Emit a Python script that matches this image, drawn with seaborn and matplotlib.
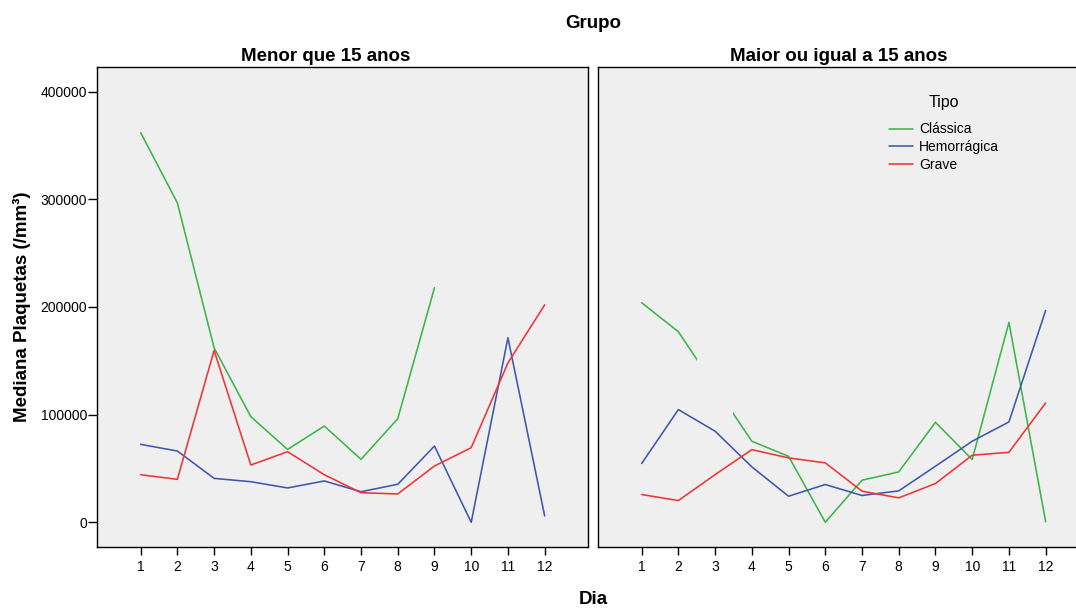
import numpy as np
import pandas as pd
import matplotlib
matplotlib.use("Agg")
import matplotlib.pyplot as plt
import seaborn as sns
from matplotlib.path import Path
from matplotlib.lines import Line2D

nan = np.nan

# ---- data -----------------------------------------------------------
dias = list(range(1, 13))
grupos = ["Menor que 15 anos", "Maior ou igual a 15 anos"]
tipos = ["Clássica", "Hemorrágica", "Grave"]

menor_classica = [362000, 296700, 162100, 98100, 67700, 89400, 58500, 96200, 217800, nan, nan, nan]
menor_hemorragica = [72400, 66200, 40800, 37700, 31900, 38400, 28400, 35300, 70800, 0, 171400, 5900]
menor_grave = [44200, 39900, 159600, 53200, 65600, 44200, 27500, 26300, 52300, 69300, 148000, 202000]

maior_classica = [204000, 177000, 126000, 75300, 61300, 0, 39100, 46800, 92900, 58300, 185700, 500]
maior_hemorragica = [54600, 104700, 84600, 51500, 24200, 35100, 24900, 29200, 52100, 75300, 93200, 196800]
maior_grave = [25800, 20200, 44300, 67500, 59800, 55200, 28900, 22700, 36000, 62300, 65000, 110900]

# the Clássica line of the older group is not drawn around this day
gap_dia = 3

yticks = [0, 100000, 200000, 300000, 400000]
ytick_labels = ["0", "100000", "200000", "300000", "400000"]

cores = {"Clássica": "#3DB54A", "Hemorrágica": "#3E58AC", "Grave": "#EF3338"}

series = {
    grupos[0]: [menor_classica, menor_hemorragica, menor_grave],
    grupos[1]: [maior_classica, maior_hemorragica, maior_grave],
}
rows = []
for g, vals in series.items():
    for t, v in zip(tipos, vals):
        for d, y in zip(dias, v):
            rows.append({"Grupo": g, "Tipo": t, "Dia": d, "Valor": y})
df = pd.DataFrame(rows).dropna()

# ---- style ----------------------------------------------------------
sns.set_theme(style="ticks")
plt.rcParams["font.family"] = ["Liberation Sans", "DejaVu Sans"]
plt.rcParams["axes.edgecolor"] = "black"
plt.rcParams["axes.linewidth"] = 1.0
plt.rcParams["xtick.color"] = "black"
plt.rcParams["ytick.color"] = "black"
plt.rcParams["text.color"] = "black"
plt.rcParams["axes.labelcolor"] = "black"
plt.rcParams["legend.labelcolor"] = "black"

W, H = 1076, 610
fig = plt.figure(figsize=(W / 100, H / 100), dpi=100)
fig.patch.set_facecolor("white")

ax_w = 490.7 / W
ax_h = (546.7 - 67.3) / H
ax_b = 1 - 546.7 / H
ax1 = fig.add_axes([97.3 / W, ax_b, ax_w, ax_h])
ax2 = fig.add_axes([598.3 / W, ax_b, ax_w, ax_h], sharey=ax1)

for ax, g in zip([ax1, ax2], grupos):
    ax.set_facecolor("#EFEFEF")
    sns.lineplot(data=df[df["Grupo"] == g], x="Dia", y="Valor", hue="Tipo",
                 hue_order=tipos, palette=cores, errorbar=None, legend=False,
                 linewidth=1.15, ax=ax)
    ax.set_xlim(-0.18, 13.18)
    ax.set_xticks(dias)
    ax.set_xticklabels([str(d) for d in dias], fontsize=10, color="black")
    ax.set_xlabel("")
    ax.set_ylabel("")
    ax.tick_params(axis="x", direction="out", length=6, width=1.0, pad=3.5)
    for s in ax.spines.values():
        s.set_visible(True)
        s.set_color("black")
        s.set_linewidth(1.0)

ax1.set_ylim(-22670, 422650)
ax1.set_yticks(yticks)
ax1.set_yticklabels(ytick_labels, fontsize=10, color="black")
ax1.tick_params(axis="y", direction="out", length=6.5, width=1.0, pad=1)
ax2.tick_params(axis="y", left=False, labelleft=False)

# gap in the Clássica line of the older group
line = ax2.lines[0]
y0, y1 = -1e7, 1e7
verts = [(-100, y0), (gap_dia - 0.5, y0), (gap_dia - 0.5, y1), (-100, y1), (-100, y0),
         (gap_dia + 0.5, y0), (100, y0), (100, y1), (gap_dia + 0.5, y1), (gap_dia + 0.5, y0)]
codes = [Path.MOVETO, Path.LINETO, Path.LINETO, Path.LINETO, Path.CLOSEPOLY] * 2
line.set_clip_path(Path(verts, codes), ax2.transData)

# panel titles
ax1.text(0.466, 1.004, grupos[0], transform=ax1.transAxes, ha="center", va="bottom",
         fontsize=13.5, fontweight="bold", color="black")
ax2.text(0.49, 1.004, grupos[1], transform=ax2.transAxes, ha="center", va="bottom",
         fontsize=13.5, fontweight="bold", color="black")

fig.text(593 / W, 1 - 24 / H, "Grupo", ha="center", va="center", fontsize=13.5,
         fontweight="bold", color="black")
fig.text(593 / W, 1 - 600 / H, "Dia", ha="center", va="center", fontsize=13.5,
         fontweight="bold", color="black")
fig.text(22 / W, 1 - 307 / H, "Mediana Plaquetas (/mm³)", ha="center", va="center",
         rotation=90, fontsize=13.5, fontweight="bold", color="black")

handles = [Line2D([], [], color=cores[t], lw=1.15) for t in tipos]
leg = ax2.legend(handles, tipos, title="Tipo", frameon=False, loc="upper left",
                 bbox_to_anchor=(882 / W, 1 - 88 / H), bbox_transform=fig.transFigure,
                 borderpad=0, handlelength=1.75, handletextpad=0.4, labelspacing=0.26,
                 fontsize=10, title_fontsize=11.5)
leg.get_title().set_color("black")
try:
    leg._legend_box.sep = 9
except Exception:
    pass

fig.savefig("out.png", dpi=100)
